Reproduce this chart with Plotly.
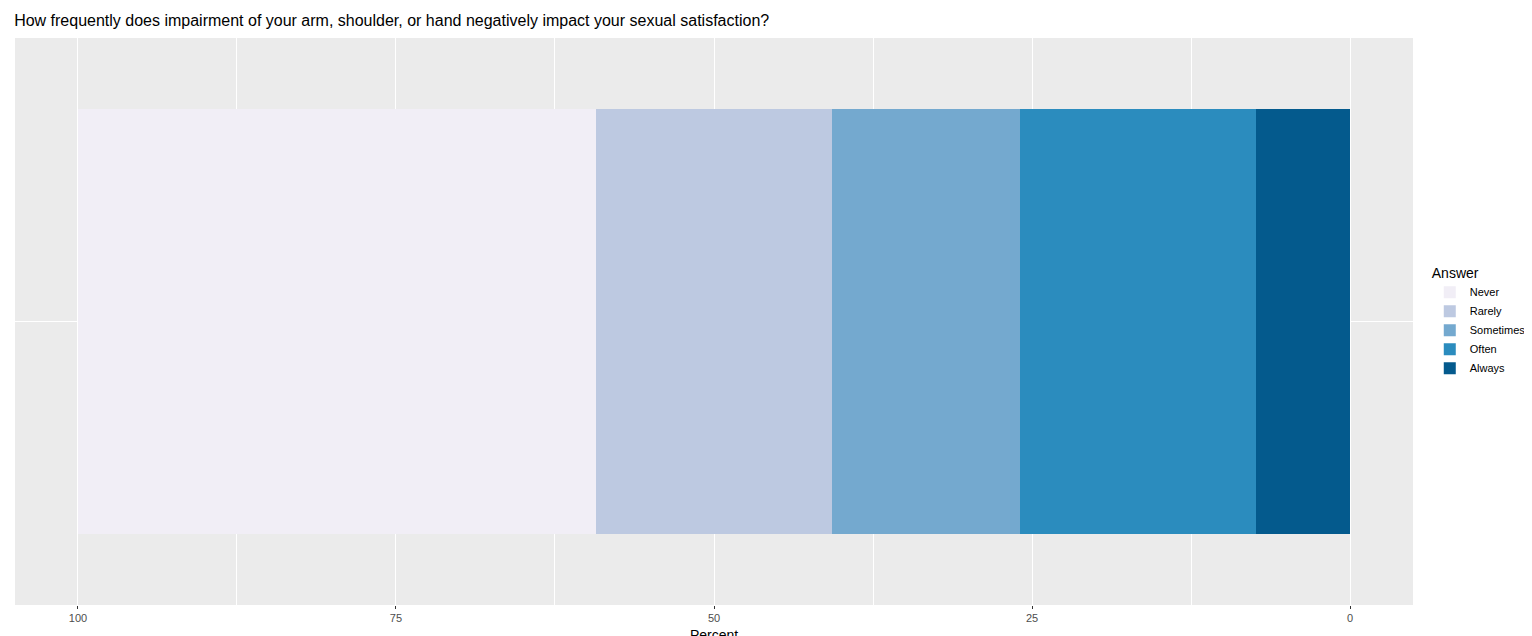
import plotly.graph_objects as go

answers = ["Always", "Often", "Sometimes", "Rarely", "Never"]
percents = [7.41, 18.52, 14.81, 18.52, 40.74]
colors = ["#045a8d", "#2b8cbe", "#74a9cf", "#bdc9e1", "#f1eef6"]
tick_vals = [0, 25, 50, 75, 100]

fig = go.Figure()
for a, p, c in zip(answers, percents, colors):
    fig.add_trace(go.Bar(y=[1], x=[p], orientation="h", name=a, width=0.9,
                         marker=dict(color=c, line=dict(width=0)),
                         hovertemplate=a + ": %{x:.1f}%<extra></extra>"))

fig.update_layout(
    barmode="stack", bargap=0,
    width=1532, height=636,
    margin=dict(l=7, r=127, t=30, b=39, autoexpand=False),
    paper_bgcolor="white", plot_bgcolor="#ebebeb",
    font=dict(family="Liberation Sans, Arial", color="#000"),
    title=dict(text="How frequently does impairment of your arm, shoulder, or hand negatively impact your sexual satisfaction?",
               x=0.004, xanchor="left", y=0.99, yanchor="top", font=dict(size=16)),
    legend=dict(title=dict(text="Answer", font=dict(size=14)), traceorder="reversed",
                x=1.012, xanchor="left", y=0.5, yanchor="middle",
                font=dict(size=11), tracegroupgap=0),
    xaxis=dict(range=[104.95, -4.95], tickvals=tick_vals, ticktext=[str(v) for v in tick_vals],
               automargin=False,
               showgrid=True, gridcolor="white", gridwidth=1.2, zeroline=False,
               minor=dict(tickvals=[12.5, 37.5, 62.5, 87.5], showgrid=True, gridcolor="white", gridwidth=0.5),
               ticks="outside", ticklen=3, tickcolor="#333", tickfont=dict(size=11, color="#4d4d4d")),
    yaxis=dict(range=[0.4, 1.6], tickvals=[1], ticktext=[""], showgrid=True, gridcolor="white",
               automargin=False, gridwidth=1.2, zeroline=False, ticks=""),
    annotations=[dict(text="Percent", xref="paper", yref="paper", x=0.5, y=0, yshift=-20,
                      xanchor="center", yanchor="top", showarrow=False, font=dict(size=14))],
)
fig.write_html("out.html")
